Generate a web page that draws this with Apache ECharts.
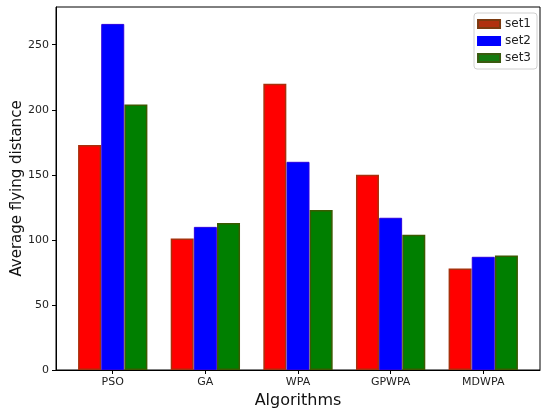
<!DOCTYPE html>
<html>
<head>
<meta charset="utf-8">
<script src="https://cdn.jsdelivr.net/npm/echarts@6/dist/echarts.min.js"></script>
<style>
  html, body { margin: 0; padding: 0; background: #fff; }
  #chart { width: 550px; height: 412px; }
</style>
</head>
<body>
<div id="chart"></div>
<script>
// values
const algorithms = ['PSO', 'GA', 'WPA', 'GPWPA', 'MDWPA']
const set1 = [173, 101, 220, 150, 78]
const set2 = [266, 110, 160, 117, 87]
const set3 = [204, 113, 123, 104, 88]
const yTicks = [0, 50, 100, 150, 200, 250]

// bars sit at i - 0.25, i, i + 0.25 like a matplotlib grouped bar plot
const offset = 0.25
const toPoints = (vals, shift) => vals.map((v, i) => [i + shift, v])

const chart = echarts.init(document.getElementById('chart'))
const font = 'DejaVu Sans'
const option = {
  animation: false,
  grid: {
    left: 56, right: 10, top: 7, bottom: 42,
    outerBoundsMode: 'none',
    show: true, borderColor: '#000', borderWidth: 1
  },
  legend: {
    right: 13, top: 13,
    orient: 'vertical',
    icon: 'rect',
    itemWidth: 22, itemHeight: 8, itemGap: 5,
    padding: [5, 6, 5, 3],
    borderColor: '#d0d0d0', borderWidth: 1, borderRadius: 3,
    textStyle: { fontFamily: font, fontSize: 12, color: '#222' },
    data: [
      { name: 'set1', itemStyle: { color: '#b0300f', borderColor: '#7a3a10' } },
      { name: 'set2', itemStyle: { color: '#0000ff', borderColor: '#0000ff' } },
      { name: 'set3', itemStyle: { color: '#157a10', borderColor: '#3a5a10' } }
    ]
  },
  xAxis: {
    type: 'value',
    min: -0.6125, max: 4.6125,
    name: 'Algorithms',
    nameLocation: 'middle', nameGap: 23, nameMoveOverlap: false,
    nameTextStyle: { fontFamily: font, fontSize: 16, color: '#111' },
    splitLine: { show: false },
    axisLine: { onZero: false, lineStyle: { color: '#000' } },
    axisTick: { customValues: [0, 1, 2, 3, 4], length: 4, lineStyle: { color: '#000' } },
    axisLabel: {
      customValues: [0, 1, 2, 3, 4],
      formatter: v => algorithms[Math.round(v)],
      fontFamily: font, fontSize: 11, color: '#222', margin: 7
    }
  },
  yAxis: {
    type: 'value',
    min: 0, max: 279,
    name: 'Average flying distance',
    nameLocation: 'middle', nameGap: 31, nameMoveOverlap: false,
    nameTextStyle: { fontFamily: font, fontSize: 15, color: '#111' },
    splitLine: { show: false },
    axisLine: { show: true, onZero: false, lineStyle: { color: '#000' } },
    axisTick: { show: true, customValues: yTicks, length: 4, lineStyle: { color: '#000' } },
    axisLabel: { customValues: yTicks, fontFamily: font, fontSize: 11, color: '#222', margin: 7 }
  },
  series: [
    {
      name: 'set1', type: 'bar', barWidth: 23, barGap: '-100%',
      itemStyle: { color: '#ff0000', borderColor: '#a8300c', borderWidth: 1.5 },
      data: toPoints(set1, -offset)
    },
    {
      name: 'set2', type: 'bar', barWidth: 23, barGap: '-100%',
      itemStyle: { color: '#0000ff', borderColor: '#2a00e0', borderWidth: 1 },
      data: toPoints(set2, 0)
    },
    {
      name: 'set3', type: 'bar', barWidth: 23, barGap: '-100%',
      itemStyle: { color: '#007f00', borderColor: '#3a5a00', borderWidth: 1.5 },
      data: toPoints(set3, offset)
    }
  ]
}
chart.setOption(option)
</script>
</body>
</html>
